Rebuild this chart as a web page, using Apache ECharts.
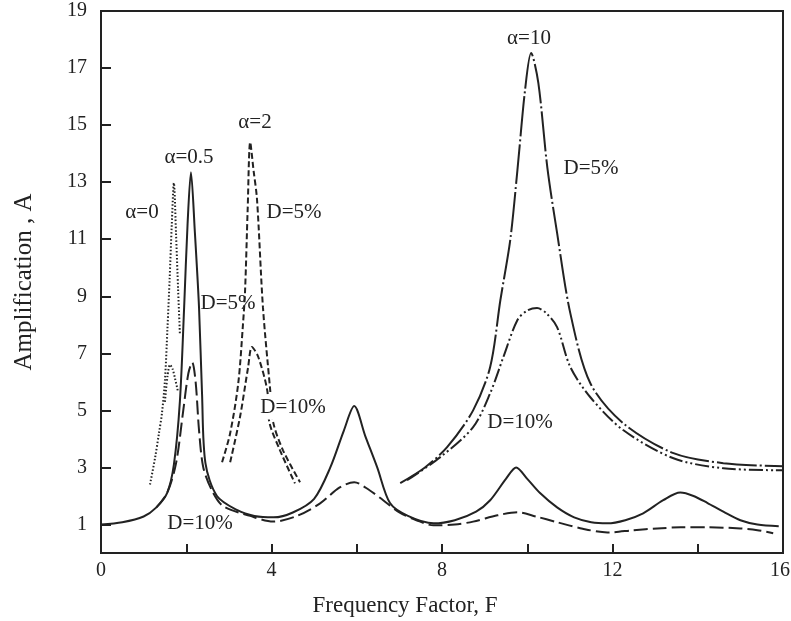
<!DOCTYPE html>
<html>
<head>
<meta charset="utf-8">
<script src="https://cdn.jsdelivr.net/npm/echarts@6/dist/echarts.min.js"></script>
<style>
html,body{margin:0;padding:0;background:#fff;}
#chart{width:791px;height:621px;}
</style>
</head>
<body>
<div id="chart"></div>
<script>
// Tick values
var xTickLabels = [0, 4, 8, 12, 16];
var xTickMarks = [2, 4, 6, 8, 10, 12, 14];
var yTickLabels = [1, 3, 5, 7, 9, 11, 13, 15, 17, 19];
var yTickMarks = [1, 3, 5, 7, 9, 11, 13, 15, 17];

// alpha = 0 (dotted)
var alpha0_D5 = [[1.15,2.4],[1.27,3.35],[1.36,4.2],[1.43,4.9],[1.5,6.05],[1.56,7.9],[1.61,9.6],[1.66,11.5],[1.71,12.97],[1.76,11.2],[1.81,9.2],[1.85,7.7]];
var alpha0_D10 = [[1.5,5.3],[1.56,6.2],[1.62,6.6],[1.68,6.45],[1.74,6.1],[1.8,5.7]];

// alpha = 0.5
var alpha05_D5 = [[0,1.0],[0.5,1.08],[1.0,1.28],[1.3,1.6],[1.55,2.1],[1.71,3.1],[1.85,5.3],[1.95,8.6],[2.03,11.5],[2.11,13.35],[2.2,11.3],[2.3,8.6],[2.37,5.6],[2.45,3.15],[2.72,2.0],[3.2,1.5],[3.6,1.3],[4.05,1.25],[4.5,1.42],[5.0,1.9],[5.38,3.0],[5.7,4.3],[5.94,5.15],[6.2,4.1],[6.48,3.0],[6.78,1.75],[7.2,1.3],[7.8,1.04],[8.3,1.15],[8.8,1.45],[9.13,1.85],[9.5,2.6],[9.74,3.0],[10.0,2.6],[10.3,2.1],[10.7,1.6],[11.1,1.25],[11.5,1.08],[11.88,1.04],[12.3,1.15],[12.72,1.39],[13.19,1.85],[13.59,2.12],[13.9,2.0],[14.23,1.75],[14.6,1.45],[15.0,1.15],[15.4,1.0],[15.9,0.94]];
var alpha05_D10 = [[1.3,1.6],[1.55,2.1],[1.76,3.14],[1.93,5.0],[2.05,6.3],[2.14,6.68],[2.22,6.0],[2.3,4.3],[2.4,3.0],[2.6,2.2],[2.86,1.65],[3.5,1.3],[4.04,1.1],[4.6,1.3],[5.14,1.74],[5.6,2.3],[5.94,2.48],[6.3,2.2],[6.62,1.85],[7.0,1.42],[7.4,1.15],[7.8,0.97],[8.3,1.0],[8.73,1.1],[9.3,1.32],[9.77,1.43],[10.2,1.28],[10.7,1.08],[11.3,0.85],[11.88,0.72],[12.5,0.8],[13.05,0.86],[13.6,0.9],[14.23,0.9],[15.0,0.86],[15.4,0.8],[15.77,0.69]];

// alpha = 2 (short dashes)
var alpha2_D5 = [[2.84,3.18],[3.03,4.2],[3.22,5.95],[3.33,8.0],[3.38,9.2],[3.44,12.0],[3.5,14.4],[3.58,13.4],[3.66,12.4],[3.8,8.6],[3.97,5.7],[4.04,4.58],[4.27,3.6],[4.67,2.48]];
var alpha2_D10 = [[3.03,3.18],[3.26,4.76],[3.45,6.5],[3.54,7.22],[3.69,6.87],[3.9,5.7],[3.95,4.58],[4.2,3.6],[4.55,2.44]];

// alpha = 10
var alpha10_D5 = [[7.02,2.45],[7.6,3.0],[8.12,3.71],[8.73,5.0],[9.13,6.52],[9.37,8.87],[9.6,10.96],[9.77,13.43],[9.95,16.25],[10.09,17.53],[10.26,16.48],[10.47,13.53],[10.7,11.22],[11.01,8.41],[11.48,5.95],[12.25,4.55],[13.43,3.5],[14.6,3.15],[16.0,3.04]];
var alpha10_D10 = [[7.18,2.55],[7.96,3.36],[8.73,4.41],[9.13,5.6],[9.44,6.87],[9.77,8.17],[10.0,8.5],[10.23,8.59],[10.45,8.4],[10.7,7.92],[11.01,6.52],[11.48,5.46],[12.25,4.31],[13.43,3.32],[14.6,2.97],[16.0,2.9]];

var INK = '#222';
var FONT = '"Liberation Serif", "Times New Roman", serif';

function line(data, dash, width, smooth) {
  return {
    type: 'line', data: data, symbol: 'none', smooth: smooth,
    lineStyle: { color: INK, width: width, type: dash },
    silent: true
  };
}

function txt(t, x, y, size, bg) {
  var s = { text: t, x: x, y: y, align: 'center', verticalAlign: 'middle',
            fontSize: size || 21, fontFamily: FONT, fill: INK };
  if (bg) { s.backgroundColor = '#fff'; s.padding = [2, 2]; }
  return { type: 'text', z: 100, style: s };
}

var chart = echarts.init(document.getElementById('chart'), null, { renderer: 'canvas' });
chart.setOption({
  animation: false,
  backgroundColor: '#fff',
  grid: { left: 101, right: 8, top: 11, bottom: 68, outerBoundsMode: 'none', containLabel: false,
          show: true, borderColor: INK, borderWidth: 2, backgroundColor: 'transparent' },
  xAxis: {
    type: 'value', min: 0, max: 16,
    name: 'Frequency Factor, F', nameLocation: 'middle', nameGap: 41,
    nameTextStyle: { fontFamily: FONT, fontSize: 23, color: INK, padding: [0, 74, 0, 0] },
    axisLine: { lineStyle: { color: INK, width: 2 } },
    axisTick: { inside: true, length: 9, customValues: xTickMarks, lineStyle: { color: INK, width: 2 } },
    axisLabel: {
      customValues: xTickLabels, fontFamily: FONT, fontSize: 20, color: INK, margin: 8,
      formatter: function (v) { return v === 16 ? '{m|16}' : String(v); },
      rich: { m: { fontFamily: FONT, fontSize: 20, color: INK, padding: [0, 6, 0, 0] } }
    },
    splitLine: { show: false }
  },
  yAxis: {
    type: 'value', min: 0, max: 19,
    name: 'Amplification , A', nameLocation: 'middle', nameGap: 64,
    nameTextStyle: { fontFamily: FONT, fontSize: 25, color: INK },
    axisLine: { lineStyle: { color: INK, width: 2 } },
    axisTick: { inside: true, length: 10, customValues: yTickMarks, lineStyle: { color: INK, width: 2 } },
    axisLabel: { customValues: yTickLabels, fontFamily: FONT, fontSize: 20, color: INK, margin: 14 },
    splitLine: { show: false }
  },
  series: [
    line(alpha0_D5, [1.5, 2], 2, 0.3),
    line(alpha0_D10, [1.5, 2], 2, 0.3),
    line(alpha05_D5, 'solid', 2, 0.3),
    line(alpha05_D10, [14, 5], 2, 0.3),
    line(alpha2_D5, [6, 3], 2, 0.3),
    line(alpha2_D10, [6, 3], 2, 0.3),
    line(alpha10_D5, [40, 3, 2, 3], 2, 0.3),
    line(alpha10_D10, [14, 3, 2, 3, 2, 3], 2, 0.3)
  ],
  graphic: [
    txt('α=0', 142, 212),
    txt('α=0.5', 189, 157),
    txt('α=2', 255, 122),
    txt('D=5%', 294, 212),
    txt('D=5%', 228, 303),
    txt('D=10%', 293, 407, 21, true),
    txt('D=10%', 200, 523),
    txt('α=10', 529, 38),
    txt('D=5%', 591, 168),
    txt('D=10%', 520, 422)
  ]
});
</script>
</body>
</html>
